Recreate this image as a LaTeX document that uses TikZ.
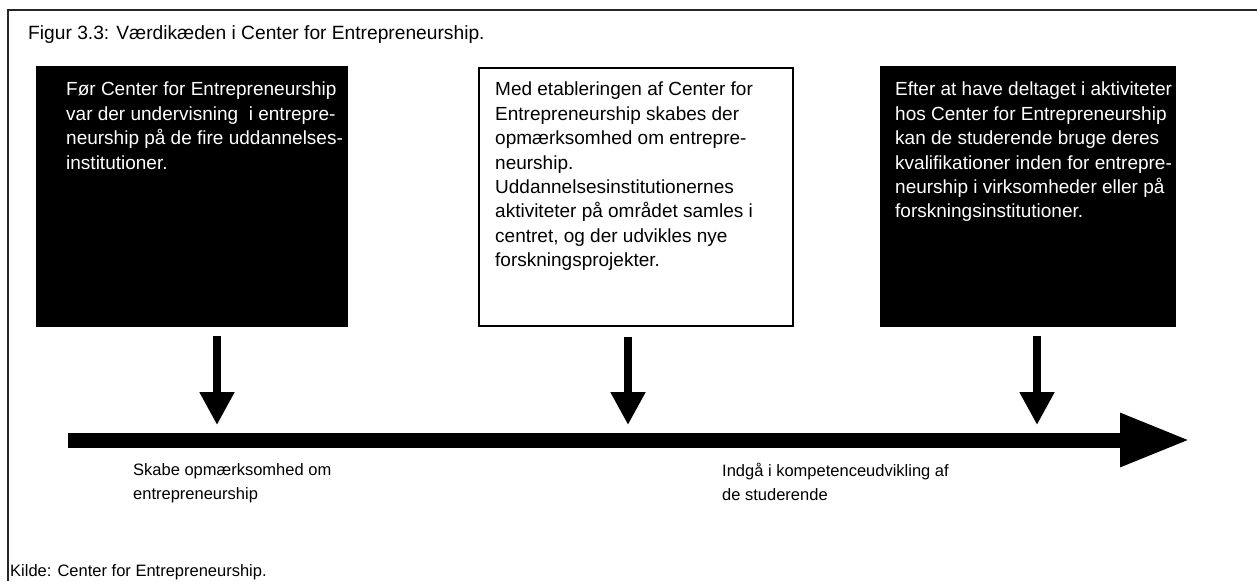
\documentclass[tikz,border=0pt]{standalone}
\usepackage{fontspec}
\setmainfont{Liberation Sans}
\usetikzlibrary{arrows.meta, positioning, calc}

\tikzset{
  darkbox/.style={fill=black, draw=black, anchor=north west, inner sep=0pt,
    minimum height=260pt},
  lightbox/.style={fill=white, draw=black, line width=1.5pt, anchor=north west,
    inner sep=0pt, minimum height=258pt},
  boxtext/.style={anchor=north west, inner sep=0pt, align=left,
    font=\fontsize{19}{24.4}\selectfont},
  downarrow/.style={line width=8pt, -{Triangle[width=33pt, length=33pt]}},
  mainarrow/.style={line width=15pt, -{Triangle[width=50pt, length=70pt]}}
}

\begin{document}
\begin{tikzpicture}[x=1pt, y=-1pt]
  \useasboundingbox (0,0) rectangle (1257,581);

  % Frame and caption
  \draw[line width=1.5pt, black!85] (8,581) -- (8,10) -- (1257,10);
  \node[anchor=base west, inner sep=0pt, font=\fontsize{19.2}{24}\selectfont]
    (title) at (28,39) {Figur 3.3: Værdikæden i Center for Entrepreneurship.};

  % The three stages
  \node[darkbox, minimum width=311pt] (foer) at (36,66) {};
  \node[boxtext, white] (foertxt) at (66,82) {Før Center for Entrepreneurship\\
    var der undervisning\ \ i entrepre-\\neurship på de fire uddannelses-\\institutioner.};

  \node[lightbox, minimum width=314pt] (med) at (478,67) {};
  \node[boxtext] (medtxt) at (495,82) {Med etableringen af Center for\\
    Entrepreneurship skabes der\\opmærksomhed om entrepre-\\neurship.\\
    Uddannelsesinstitutionernes\\aktiviteter på området samles i\\
    centret, og der udvikles nye\\forskningsprojekter.};

  \node[darkbox, minimum width=295pt] (efter) at (880,66) {};
  \node[boxtext, white] (eftertxt) at (895,82) {Efter at have deltaget i aktiviteter\\
    hos Center for Entrepreneurship\\kan de studerende bruge deres\\
    kvalifikationer inden for entrepre-\\neurship i virksomheder eller på\\
    forskningsinstitutioner.};

  % Time line
  \coordinate (tstart) at (68,440);
  \coordinate (tend) at (1190,440);
  \draw[mainarrow] (tstart) -- (tend);

  \foreach \b/\x in {foer/217, med/628, efter/1037} {
    \coordinate (p\b) at (\x,425);
    \draw[downarrow] ([yshift=-10pt]p\b |- \b.south) -- (p\b);
  }

  % Effects along the line
  \node[boxtext, font=\fontsize{16.5}{24}\selectfont] (skabe) at (133,463)
    {Skabe opmærksomhed om\\entrepreneurship};
  \node[boxtext, font=\fontsize{16.5}{24}\selectfont] (indgaa) at (722,463)
    {Indgå i kompetenceudvikling af\\de studerende};

  \node[anchor=base west, inner sep=0pt, font=\fontsize{16.5}{20}\selectfont]
    (kilde) at (10,576) {Kilde: Center for Entrepreneurship.};
\end{tikzpicture}
\end{document}
